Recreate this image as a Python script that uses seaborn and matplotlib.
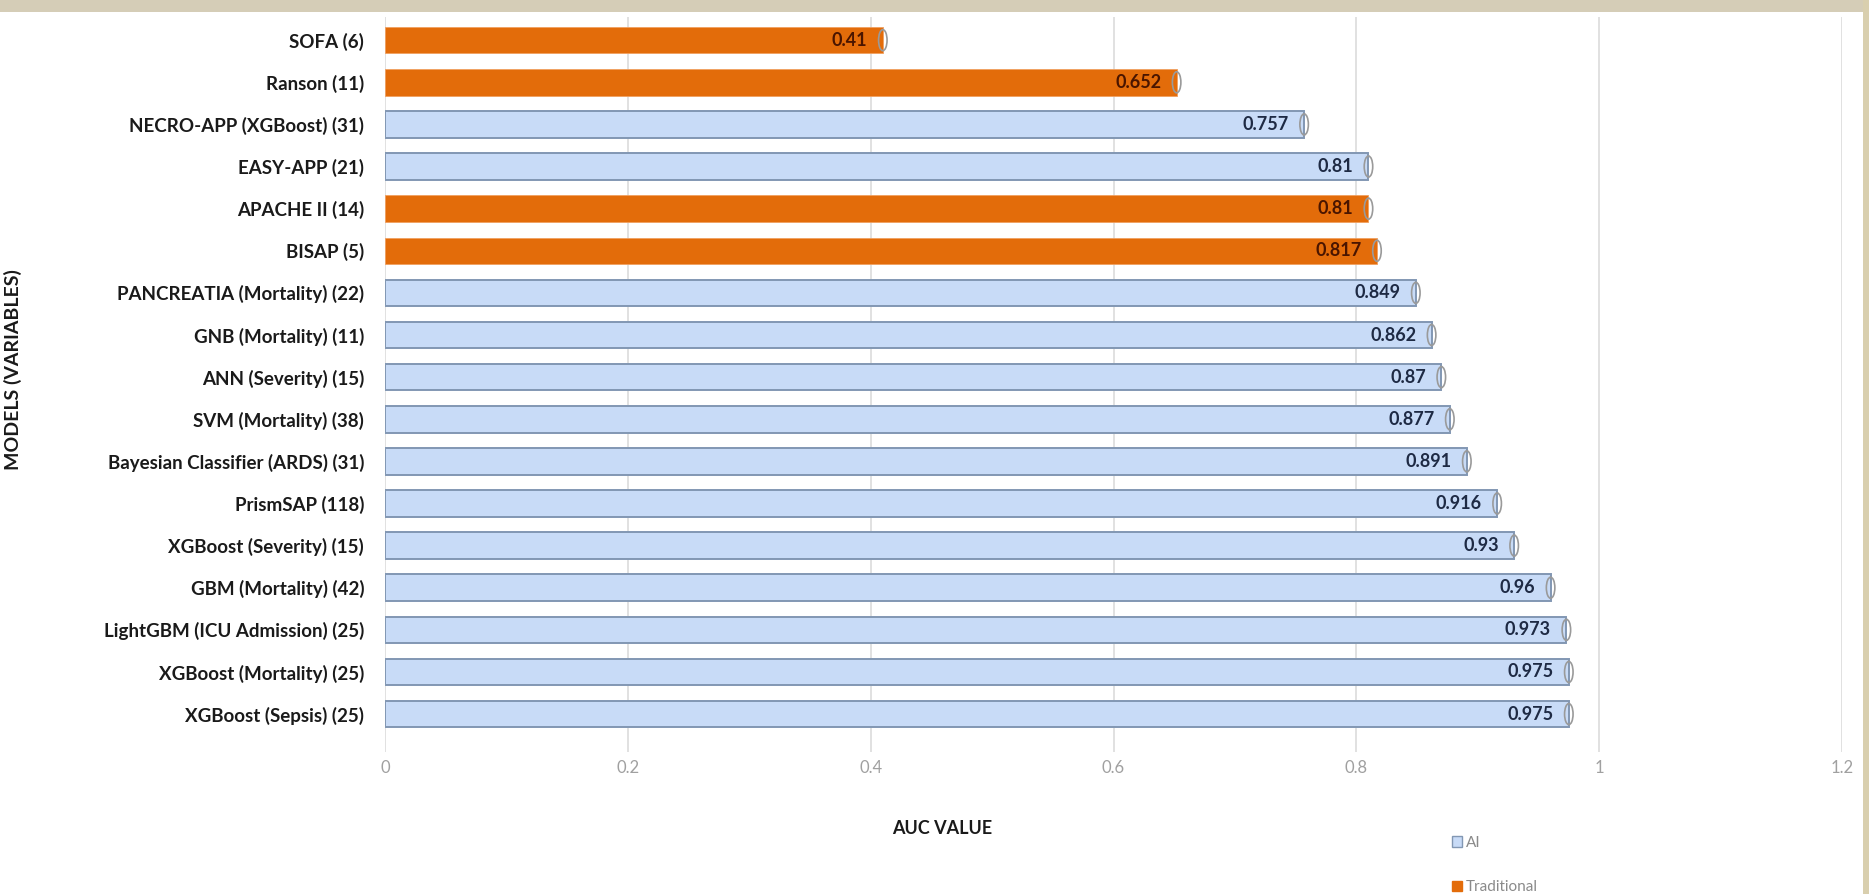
import numpy as np
import pandas as pd
import matplotlib
matplotlib.use("Agg")
import matplotlib.pyplot as plt
import matplotlib.colors as mcolors
import seaborn as sns
from matplotlib.patches import Rectangle, Ellipse

# ── Data ──────────────────────────────────────────────────────────────────────
MODELS = [
    "SOFA (6)",
    "Ranson (11)",
    "NECRO-APP (XGBoost) (31)",
    "EASY-APP (21)",
    "APACHE II (14)",
    "BISAP (5)",
    "PANCREATIA (Mortality) (22)",
    "GNB (Mortality) (11)",
    "ANN (Severity) (15)",
    "SVM (Mortality) (38)",
    "Bayesian Classifier (ARDS) (31)",
    "PrismSAP (118)",
    "XGBoost (Severity) (15)",
    "GBM (Mortality) (42)",
    "LightGBM (ICU Admission) (25)",
    "XGBoost (Mortality) (25)",
    "XGBoost (Sepsis) (25)",
]
AUC = [0.41, 0.652, 0.757, 0.81, 0.81, 0.817, 0.849, 0.862, 0.87, 0.877,
       0.891, 0.916, 0.93, 0.96, 0.973, 0.975, 0.975]
KIND = ["Traditional", "Traditional", "AI", "AI", "Traditional", "Traditional",
        "AI", "AI", "AI", "AI", "AI", "AI", "AI", "AI", "AI", "AI", "AI"]
LABELS = ["0.41", "0.652", "0.757", "0.81", "0.81", "0.817", "0.849", "0.862",
          "0.87", "0.877", "0.891", "0.916", "0.93", "0.96", "0.973", "0.975",
          "0.975"]
X_TICKS = [0, 0.2, 0.4, 0.6, 0.8, 1.0, 1.2]
X_TICK_LABELS = ["0", "0.2", "0.4", "0.6", "0.8", "1", "1.2"]

AI_FACE, AI_EDGE = "#c8dbf7", "#8297b3"
TRAD_FACE = "#e36c0a"
PALETTE = {"AI": AI_FACE, "Traditional": TRAD_FACE}

df = pd.DataFrame({"model": MODELS, "auc": AUC, "kind": KIND})

# ── Figure ────────────────────────────────────────────────────────────────────
sns.set_style("white")
plt.rcParams["font.family"] = ["Lato", "DejaVu Sans"]

W, H = 1869, 894
fig = plt.figure(figsize=(W / 100, H / 100), dpi=100)
ax = fig.add_axes([385 / W, 1 - 752 / H, 1457 / W, (752 - 17) / H])

sns.barplot(data=df, x="auc", y="model", hue="kind", palette=PALETTE,
            dodge=False, orient="h", width=0.63, ax=ax, legend=False,
            saturation=1)

ai_rgb = mcolors.to_rgb(AI_FACE)
for patch in ax.patches:
    if np.allclose(patch.get_facecolor()[:3], ai_rgb, atol=0.01):
        patch.set_edgecolor(AI_EDGE)
        patch.set_linewidth(1.4)
    else:
        patch.set_edgecolor("#f0a060")
        patch.set_linewidth(0.6)

# cylinder end caps + value labels
for i, (v, lab, kind) in enumerate(zip(AUC, LABELS, KIND)):
    ax.add_patch(Ellipse((v, i), width=0.007, height=0.5, facecolor="none",
                         edgecolor="#9a9a9a", linewidth=1.2, zorder=4))
    ax.annotate(lab, xy=(v, i), xytext=(-11, 0), textcoords="offset points",
                ha="right", va="center", fontsize=13, fontweight="bold",
                color="#1e2a44" if kind == "AI" else "#4a1500", zorder=5)

ax.set_xlim(0, 1.2)
ax.set_ylim(len(MODELS) - 1 + 0.9, -0.55)
ax.set_xticks(X_TICKS)
ax.set_xticklabels(X_TICK_LABELS, color="#a0a0a0", fontsize=12)
ax.grid(axis="x", color="#dcdcdc", linewidth=1.2)
ax.set_axisbelow(True)
for s in ax.spines.values():
    s.set_visible(False)
ax.tick_params(axis="x", length=0, pad=6)
ax.tick_params(axis="y", length=0, pad=15, labelsize=13.5, labelcolor="#1a1a1a")
for t in ax.get_yticklabels():
    t.set_fontweight("bold")

ax.set_xlabel("AUC VALUE", fontsize=13, fontweight="bold", color="#1a1a1a")
ax.xaxis.set_label_coords((942 - 385) / 1457, -(820 - 752) / (752 - 17))
ax.set_ylabel("MODELS (VARIABLES)", fontsize=14, fontweight="bold", color="#1a1a1a")
ax.yaxis.set_label_coords(-(385 - 22) / 1457, 0.52)

# legend
handles = [Rectangle((0, 0), 1, 1, facecolor=AI_FACE, edgecolor=AI_EDGE, lw=1),
           Rectangle((0, 0), 1, 1, facecolor=TRAD_FACE, edgecolor=TRAD_FACE, lw=1)]
leg = fig.legend(handles, ["AI", "Traditional"], loc="upper left",
                 bbox_to_anchor=(1438 / W, 1 - 822 / H), frameon=False,
                 fontsize=11, labelspacing=2.0, handlelength=0.7,
                 handleheight=0.7, handletextpad=0.2)
for t in leg.get_texts():
    t.set_color("#8a8a8a")

# slide frame: beige band on top and right
fig.add_artist(Rectangle((0, 1 - 12 / H), 1, 12 / H, transform=fig.transFigure,
                         facecolor="#d5cdb7", edgecolor="none"))
fig.add_artist(Rectangle((1 - 6 / W, 0), 6 / W, 1, transform=fig.transFigure,
                         facecolor="#d9cfae", edgecolor="none"))

fig.savefig("out.png", dpi=100)
